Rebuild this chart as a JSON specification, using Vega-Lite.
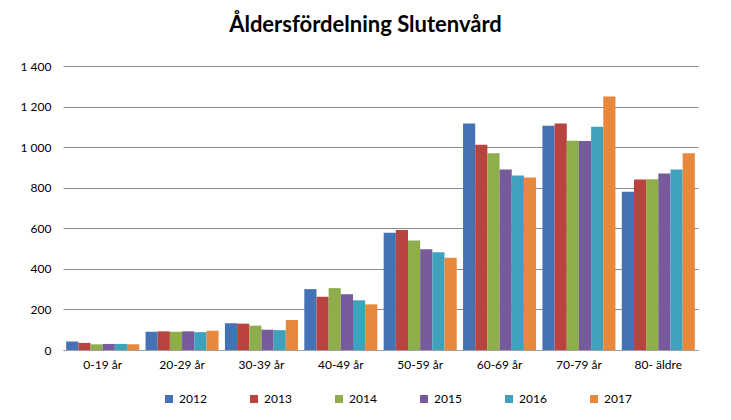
{
  "$schema": "https://vega.github.io/schema/vega-lite/v6.json",
  "width": 645,
  "height": 284,
  "autosize": {"type": "none"},
  "padding": {"left": 63, "top": 66, "right": 23, "bottom": 70},
  "background": "white",
  "title": {
    "text": "Åldersfördelning Slutenvård",
    "font": "Lato",
    "fontSize": 22,
    "fontWeight": "bold",
    "color": "#000000",
    "anchor": "middle",
    "dx": -20,
    "offset": 23
  },
  "data": {
    "values": [
      {"grupp": "0-19 år", "år": "2012", "antal": 42},
      {"grupp": "0-19 år", "år": "2013", "antal": 35},
      {"grupp": "0-19 år", "år": "2014", "antal": 28},
      {"grupp": "0-19 år", "år": "2015", "antal": 30},
      {"grupp": "0-19 år", "år": "2016", "antal": 30},
      {"grupp": "0-19 år", "år": "2017", "antal": 28},
      {"grupp": "20-29 år", "år": "2012", "antal": 90},
      {"grupp": "20-29 år", "år": "2013", "antal": 92},
      {"grupp": "20-29 år", "år": "2014", "antal": 90},
      {"grupp": "20-29 år", "år": "2015", "antal": 92},
      {"grupp": "20-29 år", "år": "2016", "antal": 88},
      {"grupp": "20-29 år", "år": "2017", "antal": 95},
      {"grupp": "30-39 år", "år": "2012", "antal": 132},
      {"grupp": "30-39 år", "år": "2013", "antal": 130},
      {"grupp": "30-39 år", "år": "2014", "antal": 120},
      {"grupp": "30-39 år", "år": "2015", "antal": 100},
      {"grupp": "30-39 år", "år": "2016", "antal": 98},
      {"grupp": "30-39 år", "år": "2017", "antal": 148},
      {"grupp": "40-49 år", "år": "2012", "antal": 300},
      {"grupp": "40-49 år", "år": "2013", "antal": 262},
      {"grupp": "40-49 år", "år": "2014", "antal": 305},
      {"grupp": "40-49 år", "år": "2015", "antal": 275},
      {"grupp": "40-49 år", "år": "2016", "antal": 245},
      {"grupp": "40-49 år", "år": "2017", "antal": 225},
      {"grupp": "50-59 år", "år": "2012", "antal": 578},
      {"grupp": "50-59 år", "år": "2013", "antal": 592},
      {"grupp": "50-59 år", "år": "2014", "antal": 540},
      {"grupp": "50-59 år", "år": "2015", "antal": 497},
      {"grupp": "50-59 år", "år": "2016", "antal": 482},
      {"grupp": "50-59 år", "år": "2017", "antal": 455},
      {"grupp": "60-69 år", "år": "2012", "antal": 1117},
      {"grupp": "60-69 år", "år": "2013", "antal": 1012},
      {"grupp": "60-69 år", "år": "2014", "antal": 970},
      {"grupp": "60-69 år", "år": "2015", "antal": 890},
      {"grupp": "60-69 år", "år": "2016", "antal": 860},
      {"grupp": "60-69 år", "år": "2017", "antal": 850},
      {"grupp": "70-79 år", "år": "2012", "antal": 1105},
      {"grupp": "70-79 år", "år": "2013", "antal": 1117},
      {"grupp": "70-79 år", "år": "2014", "antal": 1032},
      {"grupp": "70-79 år", "år": "2015", "antal": 1030},
      {"grupp": "70-79 år", "år": "2016", "antal": 1100},
      {"grupp": "70-79 år", "år": "2017", "antal": 1250},
      {"grupp": "80- äldre", "år": "2012", "antal": 780},
      {"grupp": "80- äldre", "år": "2013", "antal": 840},
      {"grupp": "80- äldre", "år": "2014", "antal": 842},
      {"grupp": "80- äldre", "år": "2015", "antal": 870},
      {"grupp": "80- äldre", "år": "2016", "antal": 890},
      {"grupp": "80- äldre", "år": "2017", "antal": 970}
    ]
  },
  "mark": {"type": "bar"},
  "encoding": {
    "x": {
      "field": "grupp",
      "type": "nominal",
      "sort": null,
      "scale": {"range": [0, 635], "paddingInner": 0.08, "paddingOuter": 0.04},
      "axis": {
        "title": null,
        "labelAngle": 0,
        "ticks": false,
        "labelPadding": 9,
        "domainColor": "#a0a0a0",
        "grid": false
      }
    },
    "xOffset": {"field": "år", "type": "nominal", "scale": {"paddingInner": 0, "paddingOuter": 0}},
    "y": {
      "field": "antal",
      "type": "quantitative",
      "scale": {"domain": [0, 1400]},
      "axis": {
        "title": null,
        "values": [0, 200, 400, 600, 800, 1000, 1200, 1400],
        "labelExpr": "replace(format(datum.value, ','), ',', ' ')",
        "ticks": false,
        "domain": false,
        "labelPadding": 12,
        "gridColor": "#8c8c8c",
        "gridWidth": 1
      }
    },
    "color": {
      "field": "år",
      "type": "nominal",
      "scale": {
        "domain": ["2012", "2013", "2014", "2015", "2016", "2017"],
        "range": ["#4572B4", "#B8433F", "#8EAE4C", "#765A9C", "#3FA2BD", "#E8883C"]
      },
      "legend": {
        "title": null,
        "orient": "none",
        "direction": "horizontal",
        "legendX": 100,
        "legendY": 327,
        "symbolType": "square",
        "symbolSize": 64,
        "symbolStrokeWidth": 0,
        "columnPadding": 41,
        "labelFontSize": 12
      }
    }
  },
  "config": {
    "font": "Lato",
    "view": {"stroke": null},
    "axis": {"labelFont": "Lato", "labelFontSize": 12, "labelColor": "#000000"},
    "legend": {"labelFont": "Lato", "labelColor": "#000000"}
  }
}
